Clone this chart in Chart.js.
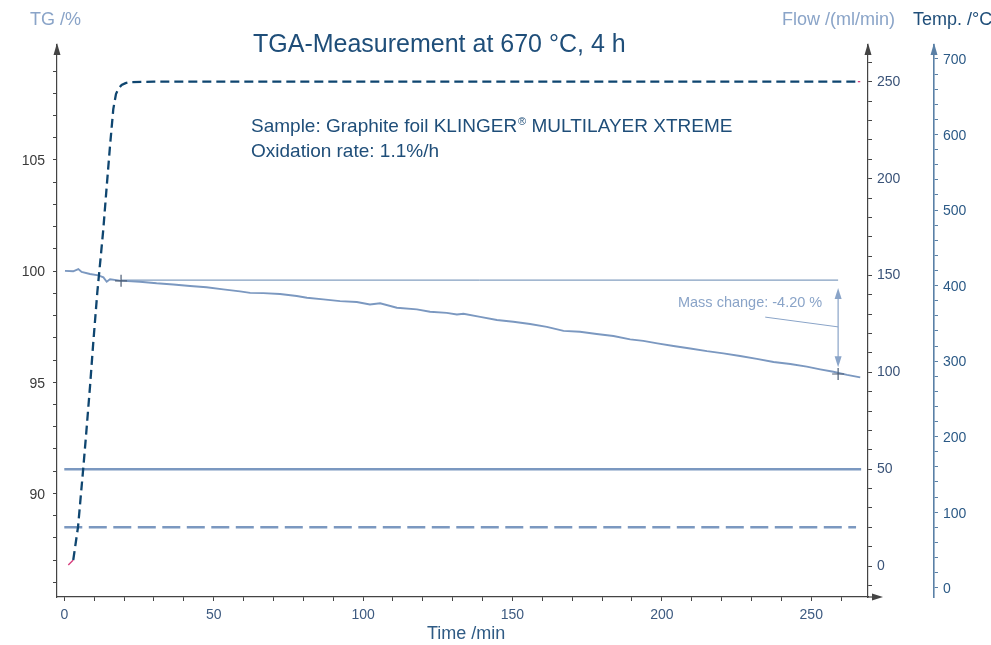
<!DOCTYPE html>
<html><head><meta charset="utf-8">
<style>html,body{margin:0;padding:0;background:#fff;overflow:hidden}canvas{display:block}</style>
<script src="https://cdn.jsdelivr.net/npm/chart.js@4.4.1/dist/chart.umd.min.js"></script>
</head><body>
<canvas id="c" width="991" height="645"></canvas>
<script>
// ---------- data ----------
const TIME_TG = [0.23, 3.0, 4.7, 5.8, 8.6, 11.4, 13.1, 14.2, 15.3, 18.6, 25.3, 30.9, 36.5, 42.1, 47.6, 53.2, 58.8, 62.2, 66.6, 72.2, 77.8, 81.2, 86.7, 92.3, 97.9, 102.3, 105.7, 111.3, 118.0, 122.4, 128.0, 131.4, 133.6, 139.2, 144.8, 150.3, 155.9, 161.5, 167.1, 172.6, 178.2, 183.8, 189.4, 193.8, 198.5, 203.9, 209.5, 215.1, 220.6, 226.2, 231.8, 237.4, 243.0, 248.5, 253.0, 257.4, 262.0, 266.4];
const TG = [100.01, 99.99, 100.09, 99.96, 99.87, 99.81, 99.72, 99.52, 99.63, 99.57, 99.52, 99.45, 99.40, 99.33, 99.27, 99.18, 99.09, 99.02, 99.01, 98.97, 98.88, 98.80, 98.73, 98.65, 98.61, 98.50, 98.55, 98.35, 98.28, 98.17, 98.12, 98.05, 98.08, 97.94, 97.80, 97.72, 97.62, 97.49, 97.31, 97.27, 97.17, 97.08, 96.93, 96.86, 96.75, 96.63, 96.52, 96.40, 96.30, 96.18, 96.05, 95.91, 95.82, 95.70, 95.58, 95.47, 95.33, 95.22];

const TIME_TEMP = [3.0, 4.6, 6.3, 7.3, 8.6, 9.7, 11.05, 11.95, 13.06, 14.2, 15.3, 16.4, 17.3, 18.2, 19.2, 20.5, 22.0, 30, 265.6];
const TEMP = [36.7, 80.5, 156, 202.5, 266, 324.5, 391, 428, 474.5, 531.5, 584.6, 633.7, 653.6, 661, 665.5, 668, 669.4, 670, 670];
const TIME_TEMP_START = [1.34, 3.0];
const TEMP_START = [30.1, 36.7];
const TIME_TEMP_END = [265.6, 266.4];
const TEMP_END = [670, 670];

const TIME_FLOW_PURGE = [0, 266.7];
const FLOW_PURGE = [50, 50];
const TIME_FLOW_PROTECT = [0, 265];
const FLOW_PROTECT = [20, 20];

// mass change evaluation
const MASS_REF_TIME = [19.0, 259.0];
const MASS_REF_TG = [99.595, 99.595];
const MARK_TIME = [19.0, 259.0];
const MARK_TG = [99.56, 95.37];
const ARROW_TIME = [259.0, 259.0];
const ARROW_TG = [99.235, 95.68];
const LEADER_TIME = [234.6, 259.0];
const LEADER_TG = [97.93, 97.49];
const MASS_LABEL_AT = [205.4, 98.39];
const MASS_LABEL = 'Mass change: -4.20 %';

// ticks
const X_TICKS = [0,10,20,30,40,50,60,70,80,90,100,110,120,130,140,150,160,170,180,190,200,210,220,230,240,250,260];
const X_MAJOR = [0,50,100,150,200,250];
const TG_TICKS = [86,87,88,89,90,91,92,93,94,95,96,97,98,99,100,101,102,103,104,105,106,107,108,109];
const TG_MAJOR = [90,95,100,105];
const FLOW_TICKS = [-10,0,10,20,30,40,50,60,70,80,90,100,110,120,130,140,150,160,170,180,190,200,210,220,230,240,250,260];
const FLOW_MAJOR = [0,50,100,150,200,250];
const TEMP_TICKS = [0,20,40,60,80,100,120,140,160,180,200,220,240,260,280,300,320,340,360,380,400,420,440,460,480,500,520,540,560,580,600,620,640,660,680,700];
const TEMP_MAJOR = [0,100,200,300,400,500,600,700];

// ---------- helpers ----------
const pts = (xs, ys) => xs.map((x, i) => ({x: x, y: ys[i]}));
const FONT = "'Liberation Sans', Arial, Helvetica, sans-serif";
const C_LIGHT = '#7b98c0';
const C_LABEL = '#8aa4c8';
const C_DARK = '#1f4e79';
const C_TEMP = '#0f4670';
const C_AXIS = '#444444';
const C_TEMPAXIS = '#5a80a6';

function fixedTicks(arr){ return s => { s.ticks = arr.map(v => ({value: v})); }; }
function majorLabel(major){ return v => major.includes(v) ? String(v) : ''; }

Chart.defaults.font.family = FONT;

const deco = {
  id: 'deco',
  afterDraw(chart){
    const ctx = chart.ctx, a = chart.chartArea, s = chart.scales;
    ctx.save();
    const upArrow = (x, col) => {
      ctx.fillStyle = col; ctx.beginPath();
      ctx.moveTo(x, a.top - 2); ctx.lineTo(x - 3.5, a.top + 10); ctx.lineTo(x + 3.5, a.top + 10);
      ctx.closePath(); ctx.fill();
    };
    upArrow(s.y.right, C_AXIS);
    upArrow(s.yF.left, C_AXIS);
    upArrow(s.yT.left, C_TEMPAXIS);
    // x axis arrow
    ctx.strokeStyle = C_AXIS; ctx.lineWidth = 1.2;
    ctx.beginPath(); ctx.moveTo(a.right, a.bottom); ctx.lineTo(a.right + 8, a.bottom); ctx.stroke();
    ctx.fillStyle = C_AXIS; ctx.beginPath();
    ctx.moveTo(a.right + 15, a.bottom); ctx.lineTo(a.right + 4, a.bottom - 3.5); ctx.lineTo(a.right + 4, a.bottom + 3.5);
    ctx.closePath(); ctx.fill();

    // mass change double arrow
    const ax = s.x.getPixelForValue(ARROW_TIME[0]);
    const y1 = s.y.getPixelForValue(ARROW_TG[0]);
    const y2 = s.y.getPixelForValue(ARROW_TG[1]);
    ctx.strokeStyle = C_LABEL; ctx.lineWidth = 1.2;
    ctx.beginPath(); ctx.moveTo(ax, y1 + 6); ctx.lineTo(ax, y2 - 6); ctx.stroke();
    ctx.fillStyle = C_LABEL;
    ctx.beginPath(); ctx.moveTo(ax, y1); ctx.lineTo(ax - 3.5, y1 + 11); ctx.lineTo(ax + 3.5, y1 + 11); ctx.closePath(); ctx.fill();
    ctx.beginPath(); ctx.moveTo(ax, y2); ctx.lineTo(ax - 3.5, y2 - 11); ctx.lineTo(ax + 3.5, y2 - 11); ctx.closePath(); ctx.fill();

    // mass change label
    ctx.fillStyle = C_LABEL; ctx.textAlign = 'left'; ctx.textBaseline = 'alphabetic';
    ctx.font = '14.5px ' + FONT;
    ctx.fillText(MASS_LABEL, s.x.getPixelForValue(MASS_LABEL_AT[0]), s.y.getPixelForValue(MASS_LABEL_AT[1]));

    // axis titles
    ctx.font = '18px ' + FONT;
    ctx.fillStyle = C_LABEL;
    ctx.fillText('TG /%', 30, 25);
    ctx.fillText('Flow /(ml/min)', 782, 25);
    ctx.fillStyle = C_DARK;
    ctx.fillText('Temp. /°C', 913, 25);
    ctx.fillStyle = '#2f5b85';
    ctx.fillText('Time /min', 427, 639);

    // title
    ctx.fillStyle = C_DARK;
    ctx.font = '25px ' + FONT;
    ctx.fillText('TGA-Measurement at 670 °C, 4 h', 253, 52);

    // sample text
    ctx.font = '19px ' + FONT;
    let x = 251;
    const p1 = 'Sample: Graphite foil KLINGER';
    ctx.fillText(p1, x, 132); x += ctx.measureText(p1).width + 1;
    ctx.font = '11px ' + FONT;
    ctx.fillText('®', x, 125); x += ctx.measureText('®').width;
    ctx.font = '19px ' + FONT;
    ctx.fillText(' MULTILAYER XTREME', x, 132);
    ctx.fillText('Oxidation rate: 1.1%/h', 251, 157);
    ctx.restore();
  }
};

const line = (label, data, axis, color, width, dash) => ({
  label, data, yAxisID: axis, borderColor: color, borderWidth: width,
  borderDash: dash || [], pointRadius: 0, fill: false, tension: 0
});

new Chart(document.getElementById('c'), {
  type: 'line',
  data: {
    datasets: [
      {label: 'marks', data: pts(MARK_TIME, MARK_TG), yAxisID: 'y', showLine: false,
       pointStyle: 'cross', pointRadius: 6, borderColor: '#4c5d75', borderWidth: 1.2},
      line('Temperature', pts(TIME_TEMP, TEMP), 'yT', C_TEMP, 2.3, [9, 5]),
      line('Temp start', pts(TIME_TEMP_START, TEMP_START), 'yT', '#d63a7a', 1.3),
      line('Temp end', pts(TIME_TEMP_END, TEMP_END), 'yT', '#d63a7a', 1.3),
      line('TG', pts(TIME_TG, TG), 'y', C_LIGHT, 1.9),
      line('Mass ref', pts(MASS_REF_TIME, MASS_REF_TG), 'y', '#6386b0', 1),
      line('Leader', pts(LEADER_TIME, LEADER_TG), 'y', C_LABEL, 1),
      line('Purge flow', pts(TIME_FLOW_PURGE, FLOW_PURGE), 'yF', C_LIGHT, 2.5),
      line('Protective flow', pts(TIME_FLOW_PROTECT, FLOW_PROTECT), 'yF', C_LIGHT, 2.5, [18, 6.5])
    ]
  },
  options: {
    responsive: false, animation: false, devicePixelRatio: 1,
    layout: {padding: {top: 45, left: 0, right: 0, bottom: 0}},
    plugins: {legend: {display: false}, tooltip: {enabled: false}, title: {display: false}},
    scales: {
      x: {
        type: 'linear', position: 'bottom', min: -2.44, max: 269.0,
        afterBuildTicks: fixedTicks(X_TICKS),
        afterFit: s => { s.height = 48; },
        grid: {drawOnChartArea: false, drawTicks: true, tickLength: 4, tickColor: C_AXIS, tickWidth: 1},
        border: {display: true, color: C_AXIS, width: 1.2},
        ticks: {autoSkip: false, maxRotation: 0, padding: 6, color: '#3d5a80', font: {size: 14}, callback: majorLabel(X_MAJOR)}
      },
      y: {
        type: 'linear', position: 'left', min: 85.34, max: 110.17,
        afterBuildTicks: fixedTicks(TG_TICKS),
        afterFit: s => { s.width = 57; },
        grid: {drawOnChartArea: false, drawTicks: true, tickLength: 4, tickColor: C_AXIS, tickWidth: 1},
        border: {display: true, color: C_AXIS, width: 1.2},
        ticks: {autoSkip: false, padding: 8, labelOffset: 1.5, color: '#3a3a3a', font: {size: 14}, callback: majorLabel(TG_MAJOR)}
      },
      yF: {
        type: 'linear', position: 'right', weight: 0, min: -16.0, max: 269.0,
        afterBuildTicks: fixedTicks(FLOW_TICKS),
        afterFit: s => { s.width = 66; },
        grid: {drawOnChartArea: false, drawTicks: true, tickLength: 4, tickColor: C_AXIS, tickWidth: 1},
        border: {display: true, color: C_AXIS, width: 1.2},
        ticks: {autoSkip: false, padding: 5, color: '#3a5378', font: {size: 14}, callback: majorLabel(FLOW_MAJOR)}
      },
      yT: {
        type: 'linear', position: 'right', weight: 1, min: -12.3, max: 718.5,
        afterBuildTicks: fixedTicks(TEMP_TICKS),
        afterFit: s => { s.width = 57; },
        grid: {drawOnChartArea: false, drawTicks: true, tickLength: 4, tickColor: C_TEMPAXIS, tickWidth: 1},
        border: {display: true, color: C_TEMPAXIS, width: 1.6},
        ticks: {autoSkip: false, padding: 5, labelOffset: 1.5, color: '#2c5a86', font: {size: 14}, callback: majorLabel(TEMP_MAJOR)}
      }
    }
  },
  plugins: [deco]
});
</script>
</body></html>
